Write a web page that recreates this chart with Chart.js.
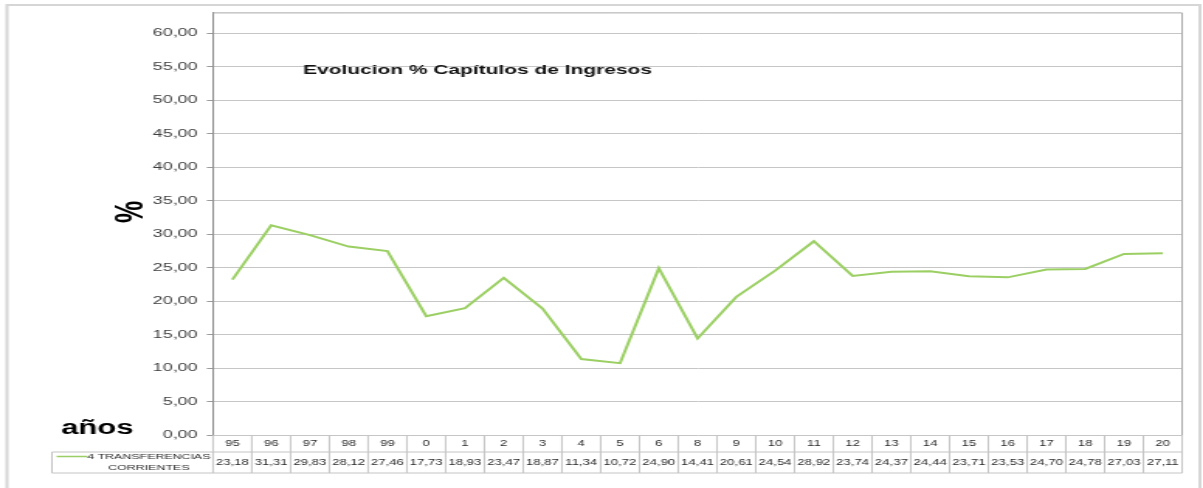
<!DOCTYPE html>
<html>
<head>
<meta charset="utf-8">
<script src="https://cdn.jsdelivr.net/npm/chart.js@4.4.1/dist/chart.umd.min.js"></script>
<style>
  html, body { margin: 0; padding: 0; background: #fff; overflow: hidden; }
  #wrap { width: 776px; height: 488px; transform: scale(1.5503, 1); transform-origin: 0 0; }
</style>
</head>
<body>
<div id="wrap"><canvas id="chart" width="776" height="488"></canvas></div>
<script>
const years = ['95', '96', '97', '98', '99', '0', '1', '2', '3', '4', '5', '6', '8', '9', '10', '11', '12', '13', '14', '15', '16', '17', '18', '19', '20'];
const transferencias = [23.18, 31.31, 29.83, 28.12, 27.46, 17.73, 18.93, 23.47, 18.87, 11.34, 10.72, 24.90, 14.41, 20.61, 24.54, 28.92, 23.74, 24.37, 24.44, 23.71, 23.53, 24.70, 24.78, 27.03, 27.11];
const seriesName = ['4 TRANSFERENCIAS', 'CORRIENTES'];
const titleText = 'Evolucion % Capítulos de Ingresos';

const S = 1.5503; // estirado horizontal del original
const GREEN = '#9bcf63';
const FONT = '"Liberation Sans", Arial, sans-serif';

function fmt(v) {
    return v.toFixed(2).replace('.', ',');
}

// marco exterior
const framePlugin = {
    id: 'frame',
    beforeDraw(chart) {
        const ctx = chart.ctx;
        ctx.save();
        ctx.strokeStyle = '#d6d6d6';
        ctx.lineWidth = 2;
        ctx.beginPath();
        ctx.moveTo(4.5, 488);
        ctx.lineTo(4.5, 5);
        ctx.lineTo(774, 5);
        ctx.lineTo(774, 488);
        ctx.stroke();
        ctx.restore();
    }
};

// tabla de datos, titulo y etiquetas
const tablePlugin = {
    id: 'dataTable',
    afterDraw(chart) {
        const ctx = chart.ctx;
        const area = chart.chartArea;
        const xs = chart.scales.x;
        const colW = (area.right - area.left) / years.length;
        const rowTop = area.bottom, rowMid = 452, rowBot = 473;

        ctx.save();
        // borde del area de trazado
        ctx.strokeStyle = '#a8a8a8';
        ctx.lineWidth = 1;
        ctx.beginPath();
        ctx.moveTo(area.left, area.top);
        ctx.lineTo(area.right, area.top);
        ctx.lineTo(area.right, area.bottom);
        ctx.stroke();

        ctx.strokeStyle = '#c4c4c4';
        ctx.beginPath();
        ctx.moveTo(33.5, rowMid); ctx.lineTo(area.right, rowMid);
        ctx.moveTo(33.5, rowBot); ctx.lineTo(area.right, rowBot);
        ctx.moveTo(33.5, rowMid); ctx.lineTo(33.5, rowBot);
        for (let i = 0; i <= years.length; i++) {
            const x = area.left + i * colW;
            ctx.moveTo(x, rowTop); ctx.lineTo(x, rowBot);
        }
        ctx.stroke();

        ctx.fillStyle = '#2a2a2a';
        ctx.font = '8.5px ' + FONT;
        ctx.textAlign = 'center';
        ctx.textBaseline = 'middle';
        years.forEach((y, i) => {
            const x = xs.getPixelForValue(i);
            ctx.fillText(y, x, 443.5);
            ctx.fillText(fmt(transferencias[i]), x, 462.5);
        });

        // leyenda
        ctx.strokeStyle = GREEN;
        ctx.lineWidth = 1.5;
        ctx.beginPath();
        ctx.moveTo(36.5, 456.5); ctx.lineTo(56.5, 456.5);
        ctx.stroke();
        ctx.font = '8px ' + FONT;
        ctx.fillText(seriesName[0], 96, 457);
        ctx.fillText(seriesName[1], 96, 467.5);

        // titulo
        ctx.fillStyle = '#111';
        ctx.font = 'bold 13.5px ' + FONT;
        ctx.textAlign = 'left';
        ctx.fillText(titleText, 195.5, 70);

        // "años"
        ctx.fillStyle = '#000';
        ctx.font = 'bold 20px ' + FONT;
        ctx.textBaseline = 'alphabetic';
        ctx.fillText('años', 39.5, 434);

        // "%" girado
        ctx.translate(85, 212);
        ctx.rotate(-Math.PI / 2);
        ctx.font = 'bold 25px ' + FONT;
        ctx.textAlign = 'center';
        ctx.textBaseline = 'middle';
        ctx.fillText('%', 0, 0);
        ctx.restore();
    }
};

Chart.defaults.font.family = FONT;

new Chart(document.getElementById('chart'), {
    type: 'line',
    data: {
        labels: years,
        datasets: [{
            label: seriesName.join(' '),
            data: transferencias,
            borderColor: GREEN,
            backgroundColor: GREEN,
            borderWidth: 2,
            pointRadius: 0,
            tension: 0,
            fill: false
        }]
    },
    options: {
        responsive: false,
        animation: false,
        devicePixelRatio: 1,
        layout: { padding: { left: 0, top: 12, right: 13.5, bottom: 53 } },
        plugins: {
            legend: { display: false },
            tooltip: { enabled: false },
            title: { display: false }
        },
        scales: {
            x: {
                type: 'category',
                display: false,
                offset: true
            },
            y: {
                min: 0,
                max: 63,
                afterFit(scale) { scale.width = 137.4; },
                border: { display: true, color: '#8e8e8e', width: 1 },
                grid: { color: '#c6c6c6', tickLength: 4, tickColor: '#9a9a9a' },
                ticks: {
                    stepSize: 5,
                    includeBounds: false,
                    padding: 6,
                    color: '#404040',
                    font: { size: 11.5 },
                    callback: v => fmt(v)
                }
            }
        }
    },
    plugins: [framePlugin, tablePlugin]
});
</script>
</body>
</html>
